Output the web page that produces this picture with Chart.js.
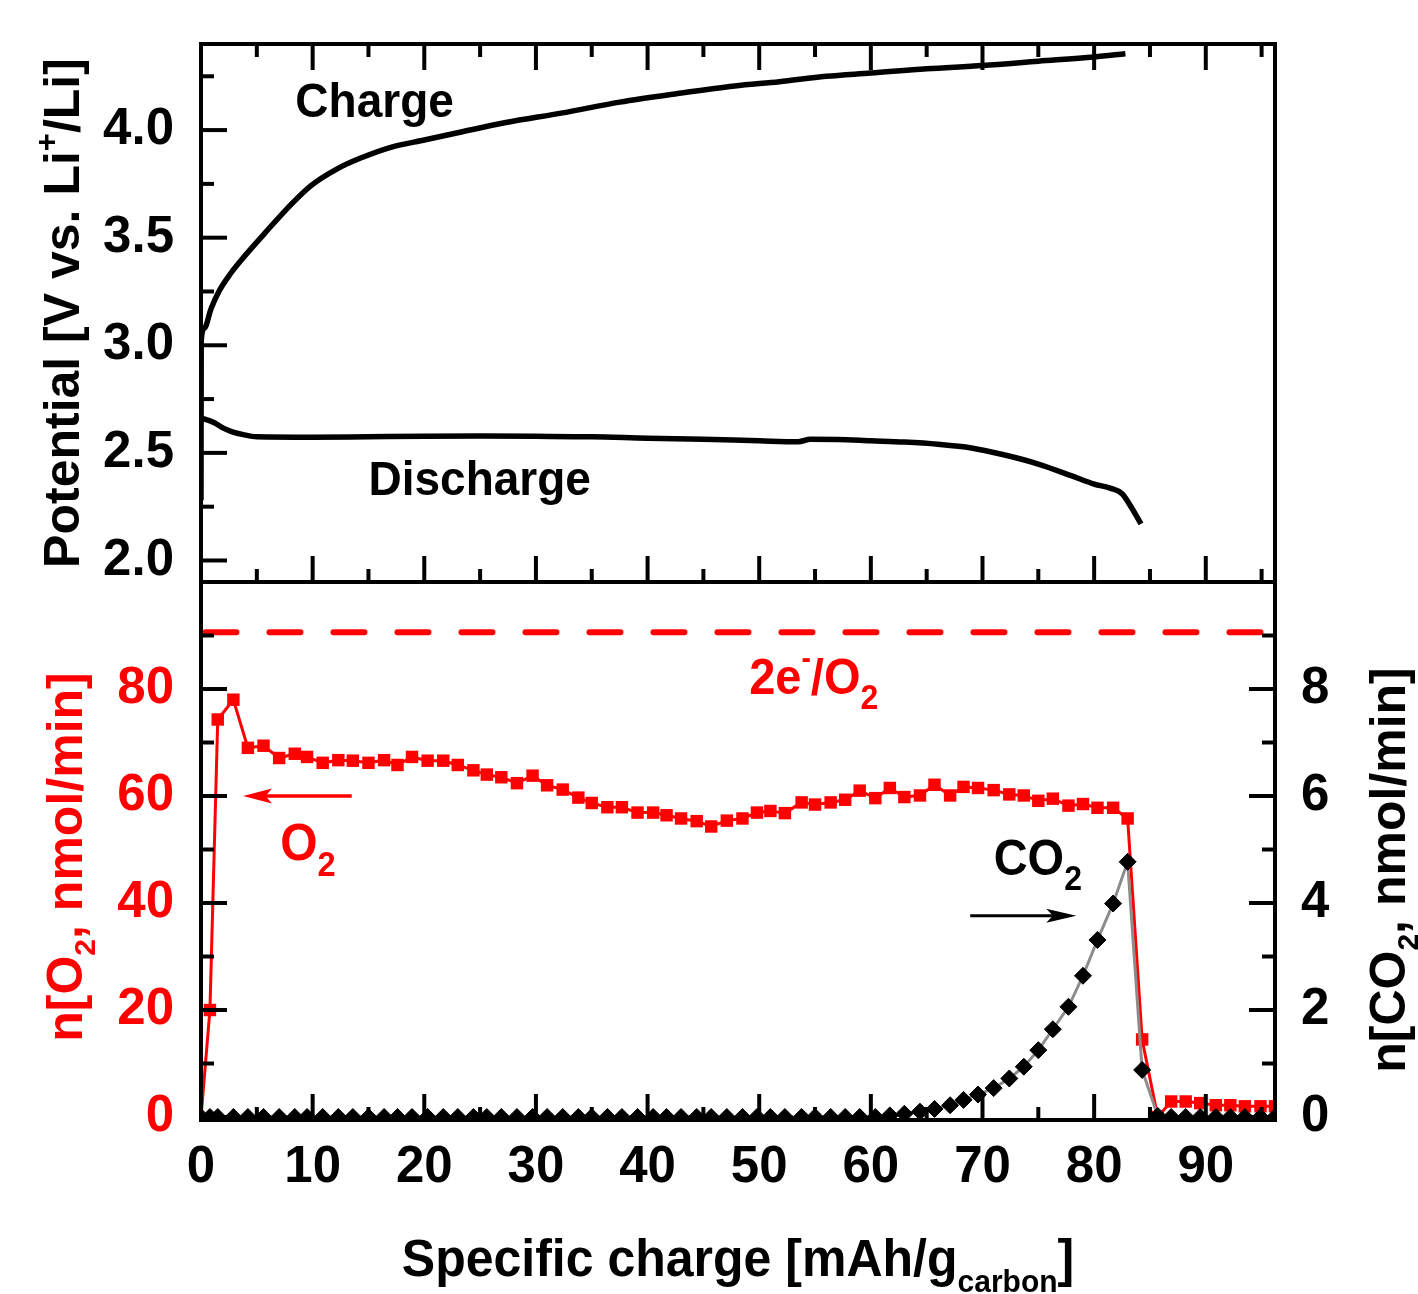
<!DOCTYPE html>
<html>
<head>
<meta charset="utf-8">
<script src="https://cdn.jsdelivr.net/npm/chart.js@4.4.0/dist/chart.umd.min.js"></script>
<style>
  html, body { margin: 0; padding: 0; background: #fff; }
  #wrap { position: relative; width: 1418px; height: 1294px; overflow: hidden; background: #fff; }
  canvas { position: absolute; left: 0; }
  #cTop { top: 0; }
  #cBot { top: 560px; }
</style>
</head>
<body>
<div id="wrap">
  <canvas id="cBot" width="1418" height="734"></canvas>
  <canvas id="cTop" width="1418" height="600"></canvas>
</div>
<script>
// ---------------- data ----------------
const xTicks = [0, 10, 20, 30, 40, 50, 60, 70, 80, 90];
const potentialTicks = [2.0, 2.5, 3.0, 3.5, 4.0];
const o2Ticks = [0, 20, 40, 60, 80];
const co2Ticks = [0, 2, 4, 6, 8];

// Potential curves (specific charge in mAh/g_carbon, potential in V)
const chargeX = [0, 0.02, 0.3, 0.9, 1.6, 2.6, 4.0, 5.7, 7.8, 9.8, 12.2, 14.3, 17.0, 20.1, 23.2, 27.3, 32.4, 37.5, 42.7, 47.8, 51.8, 56.0, 60.0, 65.0, 70.0, 75.0, 80.0, 82.8];
const chargeV = [2.28, 3.02, 3.08, 3.17, 3.25, 3.33, 3.42, 3.52, 3.64, 3.74, 3.82, 3.87, 3.92, 3.955, 3.99, 4.035, 4.08, 4.13, 4.17, 4.205, 4.225, 4.25, 4.265, 4.285, 4.30, 4.32, 4.34, 4.355];

const dischargeX = [0, 0.4, 1.2, 2.0, 2.8, 3.8, 5.0, 10, 15, 20, 25, 30, 35, 40, 45, 50, 53.5, 54.6, 57, 60, 63, 66, 69, 72, 75, 78, 80, 81.5, 82.5, 83.3, 84.2];
const dischargeV = [2.66, 2.656, 2.64, 2.615, 2.598, 2.585, 2.575, 2.573, 2.575, 2.577, 2.578, 2.577, 2.575, 2.568, 2.563, 2.556, 2.552, 2.563, 2.562, 2.556, 2.55, 2.54, 2.523, 2.49, 2.448, 2.393, 2.355, 2.335, 2.31, 2.25, 2.17];

// Gas evolution (shared sampling positions)
const gasX = [0, 0.8, 1.5, 2.9, 4.2, 5.6, 7.0, 8.4, 9.5, 10.9, 12.3, 13.6, 15.0, 16.4, 17.6, 18.9, 20.3, 21.7, 23.0, 24.4, 25.6, 26.9, 28.3, 29.7, 31.0, 32.4, 33.8, 35.0, 36.4, 37.7, 39.1, 40.5, 41.7, 43.0, 44.4, 45.7, 47.1, 48.5, 49.8, 51.0, 52.3, 53.8, 55.0, 56.4, 57.7, 59.0, 60.4, 61.7, 63.0, 64.4, 65.7, 67.1, 68.3, 69.6, 71.0, 72.4, 73.7, 75.0, 76.3, 77.7, 79.0, 80.3, 81.7, 83.0, 84.3, 85.7, 86.9, 88.2, 89.5, 90.9, 92.2, 93.5, 94.9, 96.2];
const o2Rate = [0, 20.0, 74.3, 78.0, 69.0, 69.4, 67.1, 67.9, 67.3,
  66.2, 66.7, 66.6, 66.2, 66.7,
  65.8, 67.3, 66.6, 66.6, 65.8,
  64.8, 64.0, 63.5, 62.4, 63.8,
  62.0, 61.2, 59.7, 58.7, 57.9,
  57.9, 56.9, 56.9, 56.4, 55.8,
  55.3, 54.3, 55.4, 55.8, 56.9,
  57.2, 56.8, 58.8, 58.4, 58.8,
  59.3, 61.0, 59.6, 61.5, 59.8,
  60.1, 62.1, 60.1, 61.7, 61.5,
  61.1, 60.3, 60.1, 59.1, 59.5,
  58.2, 58.5, 57.8, 57.8, 55.8,
  14.5, 0.0, 2.9, 2.9, 2.6,
  2.2, 2.2, 2.0, 2.0, 2.0];
const co2Rate = [0, 0, 0, 0, 0, 0, 0, 0, 0,
  0, 0, 0, 0, 0,
  0, 0, 0, 0, 0,
  0, 0, 0, 0, 0,
  0, 0, 0, 0, 0,
  0, 0, 0, 0, 0,
  0, 0, 0, 0, 0,
  0, 0, 0, 0, 0,
  0, 0, 0, 0.03, 0.06,
  0.10, 0.15, 0.22, 0.32, 0.42,
  0.54, 0.72, 0.94, 1.25, 1.64,
  2.06, 2.64, 3.31, 3.99, 4.77,
  0.88, 0.02, 0, 0, 0,
  0, 0, 0, 0, 0];

// theoretical 2e-/O2 rate
const refLineX = [0.4, 95.6];
const refLineY = [90.6, 90.6];

// ---------------- helpers ----------------
const FONT = "'Liberation Sans', Arial, Helvetica, sans-serif";
const MAJ = 26, MIN = 13, FRAME_W = 4;

function setFont(ctx, size) { ctx.font = `bold ${size}px ${FONT}`; }

function partSize(p, F) {
  if (p.s === 'sub') return { sz: F * (p.k || 0.68), dy: F * (p.d || 0.3) };
  if (p.s === 'sup') return { sz: F * (p.k || 0.6), dy: -F * (p.d || 0.42) };
  return { sz: F, dy: 0 };
}
function richWidth(ctx, parts, F) {
  let w = 0;
  for (const p of parts) { setFont(ctx, partSize(p, F).sz); w += ctx.measureText(p.t).width; }
  return w;
}
function drawRich(ctx, parts, x, y, F, o) {
  const opt = Object.assign({ align: 'left', color: '#000', sy: 1, rot: 0 }, o || {});
  ctx.save();
  ctx.translate(x, y);
  if (opt.rot) ctx.rotate(opt.rot);
  ctx.scale(1, opt.sy);
  ctx.fillStyle = opt.color;
  ctx.textBaseline = 'alphabetic';
  ctx.textAlign = 'left';
  let cx = opt.align === 'center' ? -richWidth(ctx, parts, F) / 2 : 0;
  for (const p of parts) {
    const { sz, dy } = partSize(p, F);
    setFont(ctx, sz);
    ctx.fillText(p.t, cx, dy);
    cx += ctx.measureText(p.t).width;
  }
  ctx.restore();
}
function drawArrow(ctx, x1, y, x2, color, lw, headLen, headHalf) {
  const dir = Math.sign(x2 - x1);
  ctx.save();
  ctx.strokeStyle = color; ctx.fillStyle = color; ctx.lineWidth = lw; ctx.lineCap = 'butt';
  ctx.beginPath(); ctx.moveTo(x1, y); ctx.lineTo(x2 - dir * headLen * 0.7, y); ctx.stroke();
  ctx.beginPath();
  ctx.moveTo(x2, y);
  ctx.lineTo(x2 - dir * headLen, y - headHalf);
  ctx.lineTo(x2 - dir * headLen * 0.78, y);
  ctx.lineTo(x2 - dir * headLen, y + headHalf);
  ctx.closePath(); ctx.fill();
  ctx.restore();
}
function seg(ctx, x1, y1, x2, y2) { ctx.beginPath(); ctx.moveTo(x1, y1); ctx.lineTo(x2, y2); ctx.stroke(); }

function axisTickFont(size) { return { size: size, weight: 'bold', family: FONT }; }

Chart.defaults.font.family = FONT;

// ---------------- top panel ----------------
const topFrame = {
  id: 'topFrame',
  afterDatasetsDraw(chart) {
    const { ctx, chartArea: a, scales: { x, y } } = chart;
    ctx.save();
    ctx.strokeStyle = '#000'; ctx.lineWidth = FRAME_W; ctx.lineCap = 'butt';
    xTicks.forEach(v => {
      const p = x.getPixelForValue(v);
      seg(ctx, p, a.top, p, a.top + MAJ); seg(ctx, p, a.bottom, p, a.bottom - MAJ);
      if (v + 5 < x.max) {
        const q = x.getPixelForValue(v + 5);
        seg(ctx, q, a.top, q, a.top + MIN); seg(ctx, q, a.bottom, q, a.bottom - MIN);
      }
    });
    potentialTicks.forEach(v => {
      const p = y.getPixelForValue(v);
      seg(ctx, a.left, p, a.left + MAJ, p);
      if (v + 0.25 < y.max) { const q = y.getPixelForValue(v + 0.25); seg(ctx, a.left, q, a.left + MIN, q); }
    });
    ctx.lineJoin = 'miter';
    ctx.strokeRect(a.left, a.top, a.right - a.left, a.bottom - a.top);
    ctx.restore();
  },
  afterDraw(chart) {
    const { ctx, chartArea: a, scales: { x, y } } = chart;
    drawRich(ctx, [{ t: 'Charge' }], x.getPixelForValue(8.45), y.getPixelForValue(4.06), 46, { sy: 1.05 });
    drawRich(ctx, [{ t: 'Discharge' }], x.getPixelForValue(15.0), y.getPixelForValue(2.302), 46, { sy: 1.05 });
    drawRich(ctx, [{ t: 'Potential [V vs. Li' }, { t: '+', s: 'sup', k: 0.62, d: 0.45 }, { t: '/Li]' }],
      79, (a.top + a.bottom) / 2, 50, { align: 'center', rot: -Math.PI / 2 });
  }
};

new Chart(document.getElementById('cTop'), {
  type: 'scatter',
  data: {
    datasets: [
      { label: 'Charge', data: chargeX.map((v, i) => ({ x: v, y: chargeV[i] })), showLine: true,
        borderColor: '#000', borderWidth: 5.5, pointRadius: 0, cubicInterpolationMode: 'monotone', fill: false },
      { label: 'Discharge', data: dischargeX.map((v, i) => ({ x: v, y: dischargeV[i] })), showLine: true,
        borderColor: '#000', borderWidth: 5.5, pointRadius: 0, cubicInterpolationMode: 'monotone', fill: false }
    ]
  },
  options: {
    responsive: false, animation: false, devicePixelRatio: 1,
    layout: { padding: { top: 44, bottom: 18, left: 0, right: 143 } },
    plugins: { legend: { display: false }, tooltip: { enabled: false } },
    scales: {
      x: { type: 'linear', display: false, min: 0, max: 96.2 },
      y: {
        type: 'linear', position: 'left', min: 1.9, max: 4.4,
        afterBuildTicks: s => { s.ticks = potentialTicks.map(v => ({ value: v })); },
        afterFit: s => { s.width = 201; s.paddingTop = 0; s.paddingBottom = 0; },
        grid: { display: false, drawTicks: false }, border: { display: false },
        ticks: { color: '#000', font: axisTickFont(51), padding: 27, callback: v => Number(v).toFixed(1) }
      }
    }
  },
  plugins: [topFrame]
});

// ---------------- bottom panel ----------------
const botFrame = {
  id: 'botFrame',
  afterDatasetsDraw(chart) {
    const { ctx, chartArea: a, scales: { x, y, y2 } } = chart;
    ctx.save();
    ctx.strokeStyle = '#000'; ctx.lineWidth = FRAME_W; ctx.lineCap = 'butt';
    xTicks.forEach(v => {
      const p = x.getPixelForValue(v);
      seg(ctx, p, a.bottom, p, a.bottom - MAJ);
      if (v + 5 < x.max) { const q = x.getPixelForValue(v + 5); seg(ctx, q, a.bottom, q, a.bottom - MIN); }
    });
    o2Ticks.forEach(v => {
      const p = y.getPixelForValue(v);
      seg(ctx, a.left, p, a.left + MAJ, p);
      const q = y.getPixelForValue(v + 10); seg(ctx, a.left, q, a.left + MIN, q);
    });
    co2Ticks.forEach(v => {
      const p = y2.getPixelForValue(v);
      seg(ctx, a.right, p, a.right - MAJ, p);
      const q = y2.getPixelForValue(v + 1); seg(ctx, a.right, q, a.right - MIN, q);
    });
    ctx.lineJoin = 'miter';
    ctx.strokeRect(a.left, a.top, a.right - a.left, a.bottom - a.top);
    ctx.restore();
  },
  afterDraw(chart) {
    const { ctx, chartArea: a, scales: { x, y } } = chart;
    const RED = '#ff0000';
    // annotations
    drawRich(ctx, [{ t: '2e' }, { t: '-', s: 'sup', k: 0.6, d: 0.5 }, { t: '/O' }, { t: '2', s: 'sub' }],
      x.getPixelForValue(49.1), y.getPixelForValue(79.1), 47, { color: RED, sy: 1.08 });
    drawRich(ctx, [{ t: 'O' }, { t: '2', s: 'sub' }],
      x.getPixelForValue(7.1), y.getPixelForValue(48.0), 48, { color: RED, sy: 1.08 });
    drawRich(ctx, [{ t: 'CO' }, { t: '2', s: 'sub' }],
      x.getPixelForValue(71.0), y.getPixelForValue(45.2), 47, { color: '#000', sy: 1.08 });
    drawArrow(ctx, x.getPixelForValue(13.5), y.getPixelForValue(60.0), x.getPixelForValue(3.76), RED, 3.5, 29, 7.5);
    drawArrow(ctx, x.getPixelForValue(68.9), y.getPixelForValue(37.6), x.getPixelForValue(78.4), '#000', 3, 30, 7);
    // axis titles
    const mid = (a.top + a.bottom) / 2;
    drawRich(ctx, [{ t: 'n[O' }, { t: '2', s: 'sub', k: 0.6, d: 0.25 }, { t: ', nmol/min]' }],
      82, mid + 6, 50, { align: 'center', rot: -Math.PI / 2, color: RED });
    drawRich(ctx, [{ t: 'n[CO' }, { t: '2', s: 'sub', k: 0.6, d: 0.25 }, { t: ', nmol/min]' }],
      1405, mid + 19, 50, { align: 'center', rot: -Math.PI / 2, color: '#000' });
    drawRich(ctx, [{ t: 'Specific charge [mAh/g' }, { t: 'carbon', s: 'sub', k: 0.6, d: 0.3 }, { t: ']' }],
      (a.left + a.right) / 2, a.bottom + 156, 50, { align: 'center', color: '#000', sy: 1.05 });
  }
};

new Chart(document.getElementById('cBot'), {
  type: 'scatter',
  data: {
    datasets: [
      { label: 'CO2', yAxisID: 'y2', data: gasX.map((v, i) => ({ x: v, y: co2Rate[i] })), showLine: true,
        borderColor: '#8c8c8c', borderWidth: 3, pointStyle: 'rectRot', pointRadius: 8.5,
        pointBackgroundColor: '#000', pointBorderColor: '#000', pointBorderWidth: 1 },
      { label: 'O2', yAxisID: 'y', data: gasX.map((v, i) => ({ x: v, y: o2Rate[i] })), showLine: true,
        borderColor: '#ff0000', borderWidth: 3, pointStyle: 'rect',
        pointRadius: c => (c.dataIndex === 0 ? 0 : 8.8),
        pointBackgroundColor: '#ff0000', pointBorderColor: '#ff0000', pointBorderWidth: 0 },
      { label: '2e-/O2', yAxisID: 'y', data: refLineX.map((v, i) => ({ x: v, y: refLineY[i] })), showLine: true,
        borderColor: '#ff0000', borderWidth: 6, borderDash: [31, 33], borderCapStyle: 'round', pointRadius: 0 }
    ]
  },
  options: {
    responsive: false, animation: false, devicePixelRatio: 1,
    layout: { padding: { top: 22, bottom: 0, left: 0, right: 0 } },
    plugins: { legend: { display: false }, tooltip: { enabled: false } },
    scales: {
      x: {
        type: 'linear', position: 'bottom', min: 0, max: 96.2,
        afterBuildTicks: s => { s.ticks = xTicks.map(v => ({ value: v })); },
        afterFit: s => { s.height = 174; s.paddingLeft = 0; s.paddingRight = 0; },
        grid: { display: false, drawTicks: false }, border: { display: false },
        ticks: { color: '#000', font: axisTickFont(51), padding: 17, maxRotation: 0, autoSkip: false }
      },
      y: {
        type: 'linear', position: 'left', min: -0.56, max: 100,
        afterBuildTicks: s => { s.ticks = o2Ticks.map(v => ({ value: v })); },
        afterFit: s => { s.width = 201; s.paddingTop = 0; s.paddingBottom = 0; },
        grid: { display: false, drawTicks: false }, border: { display: false },
        ticks: { color: '#ff0000', font: axisTickFont(51), padding: 27 }
      },
      y2: {
        type: 'linear', position: 'right', min: -0.056, max: 10,
        afterBuildTicks: s => { s.ticks = co2Ticks.map(v => ({ value: v })); },
        afterFit: s => { s.width = 143; s.paddingTop = 0; s.paddingBottom = 0; },
        grid: { display: false, drawTicks: false }, border: { display: false },
        ticks: { color: '#000', font: axisTickFont(51), padding: 26 }
      }
    }
  },
  plugins: [botFrame]
});
</script>
</body>
</html>
